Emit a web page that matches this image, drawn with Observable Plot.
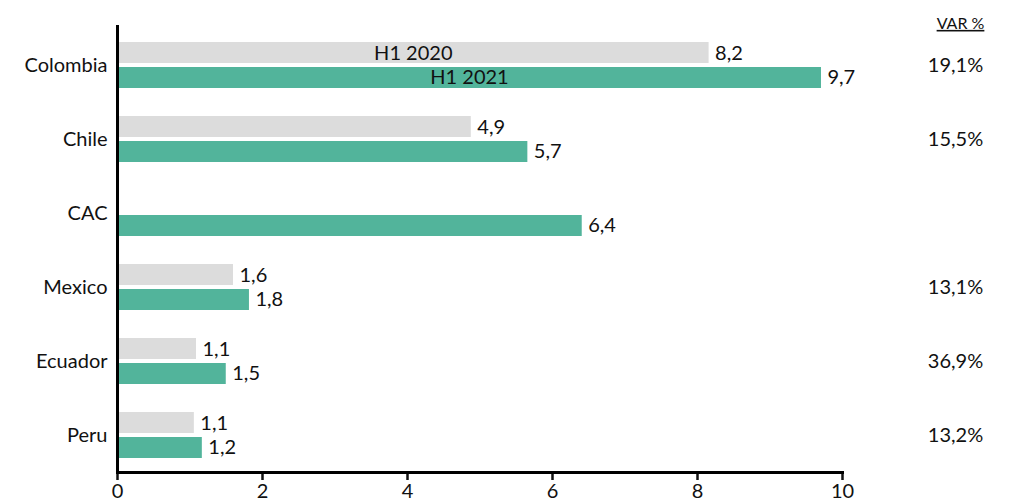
<!DOCTYPE html>
<html>
<head>
<meta charset="utf-8">
<script src="https://cdn.jsdelivr.net/npm/d3@7"></script>
<script src="https://cdn.jsdelivr.net/npm/@observablehq/plot@0.6"></script>
<style>
  html, body { margin: 0; padding: 0; background: #fff; }
  #chart svg { display: block; }
</style>
</head>
<body>
<div id="chart"></div>
<script>
const categories = ["Colombia", "Chile", "CAC", "Mexico", "Ecuador", "Peru"];
const h1_2020 = [8.16, 4.88, null, 1.6, 1.09, 1.06];
const h1_2021 = [9.71, 5.66, 6.41, 1.82, 1.5, 1.17];
const varPct = ["19,1%", "15,5%", "", "13,1%", "36,9%", "13,2%"];
const seriesNames = ["H1 2020", "H1 2021"];
const xTicks = [0, 2, 4, 6, 8, 10];

const gray = "#dcdcdc";
const green = "#52b49b";
const font = "Lato, 'Noto Sans', sans-serif";
const fs = 20;
const fmt = v => d3.format(".1f")(v).replace(".", ",");

const d2020 = categories.map((c, i) => ({cat: c, v: h1_2020[i]})).filter(d => d.v != null);
const d2021 = categories.map((c, i) => ({cat: c, v: h1_2021[i]}));
const dVar = categories.map((c, i) => ({cat: c, t: varPct[i]})).filter(d => d.t);

const plot = Plot.plot({
  width: 1017,
  height: 502,
  marginLeft: 117,
  marginRight: 175,
  marginTop: 27,
  marginBottom: 30,
  style: {fontFamily: font, fontSize: fs + "px", color: "#111", background: "#fff"},
  x: {domain: [0, 10]},
  y: {domain: categories, padding: 0},
  marks: [
    Plot.barX(d2020, {x: "v", y: "cat", fill: gray, insetTop: 14, insetBottom: 39}),
    Plot.barX(d2021, {x: "v", y: "cat", fill: green, insetTop: 39, insetBottom: 14}),
    Plot.text(d2020, {x: "v", y: "cat", text: d => fmt(d.v), textAnchor: "start", dx: 6, dy: -12, fontSize: fs, fill: "#111"}),
    Plot.text(d2021, {x: "v", y: "cat", text: d => fmt(d.v), textAnchor: "start", dx: 6, dy: 12, fontSize: fs, fill: "#111"}),
    Plot.text(d2020.slice(0, 1), {x: d => d.v / 2, y: "cat", text: () => seriesNames[0], dy: -12, fontSize: fs, fill: "#111"}),
    Plot.text(d2021.slice(0, 1), {x: d => d.v / 2, y: "cat", text: () => seriesNames[1], dy: 12, fontSize: fs, fill: "#111"}),
    Plot.text(dVar, {y: "cat", text: "t", frameAnchor: "right", textAnchor: "middle", dx: 113, fontSize: fs, fill: "#111"}),
    Plot.text(["VAR %"], {frameAnchor: "top-right", textAnchor: "middle", dx: 118, dy: -10, fontSize: 16, fill: "#111"}),
    Plot.axisY({tickSize: 0, tickPadding: 10, fontSize: fs, label: null}),
    Plot.axisX({ticks: xTicks, tickSize: 8, strokeWidth: 2.5, tickPadding: 3, fontSize: fs, label: null, tickFormat: d => String(d)}),
    Plot.frame({anchor: "bottom", strokeWidth: 3, stroke: "#000"}),
    Plot.ruleX([0], {stroke: "#000", strokeWidth: 3, insetTop: -2})
  ]
});

d3.select(plot).selectAll("text").filter(function() { return this.textContent === "VAR %"; })
  .style("text-decoration", "underline");

document.getElementById("chart").appendChild(plot);
</script>
</body>
</html>
